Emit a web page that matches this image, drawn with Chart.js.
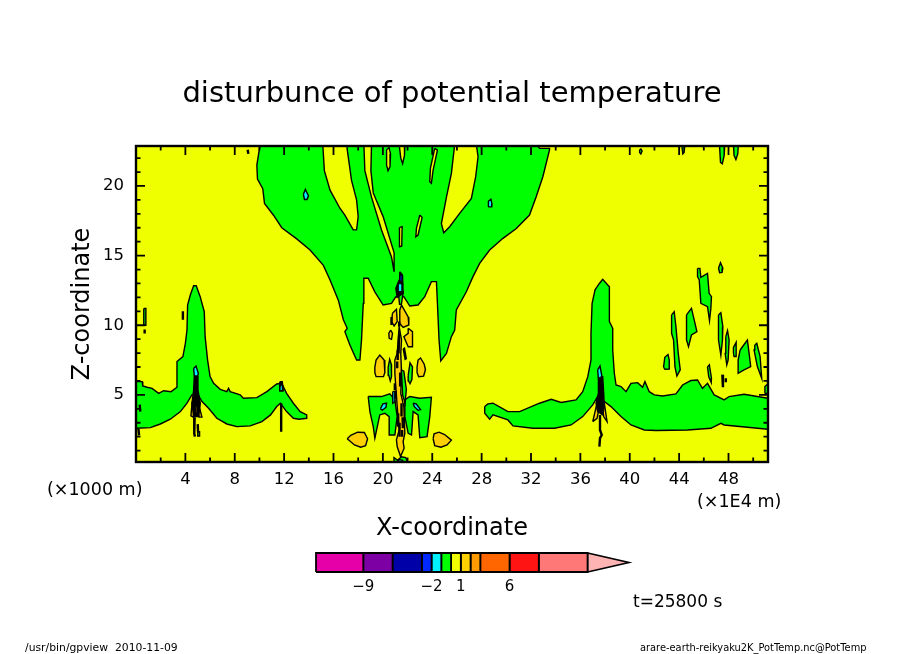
<!DOCTYPE html>
<html>
<head>
<meta charset="utf-8">
<title>disturbunce of potential temperature</title>
<script src="https://cdn.jsdelivr.net/npm/chart.js@4/dist/chart.umd.min.js"></script>
<style>
  html, body { margin: 0; padding: 0; background: #fff; }
  #wrap { position: relative; width: 904px; height: 654px; overflow: hidden; }
  #plot { position: absolute; left: 0; top: 0; }
  #bar { position: absolute; left: 296px; top: 540px; }
</style>
</head>
<body>
<div id="wrap">
  <canvas id="plot" width="904" height="654"></canvas>
  <canvas id="bar" width="360" height="60"></canvas>
</div>
<script>
// axis labels
const xTickLabels = [4, 8, 12, 16, 20, 24, 28, 32, 36, 40, 44, 48];
const zTickLabels = [5, 10, 15, 20];

// colour bar
const barLevels = [-13.85, -9, -6, -3, -2, -1, 0, 1, 2, 3, 6, 9, 14];
const barColors = ['#e600a8', '#7d00a5', '#0000a8', '#0028ff', '#00f0ff', '#00ff00', '#f0ff00', '#ffd000', '#ff9a00', '#ff6600', '#ff1414', '#ff7878'];
const barTail = [14, 18.25];
const barLabels = [-9, -2, 1, 6];

// large contour areas, x in km, z in km
const westRidgeX = [0,0.5,0.55,0.9,1.3,1.84,2.24,2.84,3.32,3.32,3.8,4.0,4.13,4.18,4.4,4.67,4.88,5.2,5.53,5.6,5.8,6.0,6.29,6.82,7.36,7.5,7.63,8.44,8.7,9.79,10.6,11.4,11.8,12.2,12.75,13.3,13.83,13.83,13.2,12.75,12.2,11.7,11.4,10.9,10.2,9.25,8.17,7.36,6.55,5.88,5.35,4.95,4.53,4.13,3.6,2.78,1.97,1.16,0];
const westRidgeZ = [5.95,5.95,5.64,5.55,5.47,5.11,5.3,5.23,5.55,7.39,7.75,8.7,9.66,11.45,12.17,12.84,12.84,12.05,10.97,9.18,7.5,6.31,5.83,5.4,5.23,5.47,5.23,5.0,4.76,4.8,5.23,5.78,5.83,5.11,4.4,3.8,3.56,3.32,3.25,3.32,3.8,4.4,4.16,3.56,3.08,2.77,2.72,2.91,3.32,4.04,4.52,5.11,5.0,4.4,3.8,3.25,2.91,2.65,2.6];

const centralX = [10.06,9.79,9.84,10.27,10.41,11.14,11.81,13.02,14.1,15.18,15.72,16.39,16.8,17.11,16.92,17.33,17.87,18.14,18.27,18.41,18.46,18.81,19.35,20.02,20.7,21.05,21.32,21.7,22.18,22.85,23.39,23.93,24.34,24.42,24.55,24.69,25.15,25.55,25.82,25.95,26.76,27.3,27.84,28.65,29.73,30.81,31.88,32.42,32.96,33.5,33.5,32.7,32.42];
const centralZ = [23,21.5,20.5,19.8,18.75,17.9,17.0,16.2,15.4,14.3,13.25,11.8,10.4,9.78,9.54,8.58,7.5,7.5,8.94,11.57,13.37,13.37,12.4,11.45,11.57,12.05,12.05,12.05,11.38,11.45,12.05,13.13,13.13,11.57,8.94,7.44,7.98,9.18,9.66,11.1,12.4,13.49,14.44,15.4,16.24,16.95,17.91,19.23,20.66,22.58,22.7,22.7,23];

const eastRidgeX = [28.25,28.51,28.92,30.13,31.08,32.69,33.64,34.44,35.65,36.19,36.6,36.86,36.86,36.95,37.19,37.54,37.81,38.35,38.35,38.62,38.62,38.75,38.89,39.29,39.7,40.1,40.64,41.04,41.23,41.58,41.99,42.66,43.74,44.28,44.95,45.49,45.89,46.3,46.84,47.65,48.05,49.26,50.34,51.2,51.2,47.65,47.38,46.57,44.68,42.12,41.18,40.1,39.29,38.48,37.94,37.4,37.0,36.19,35.25,33.9,32.15,30.54,30.13,28.92,28.65,28.25];
const eastRidgeZ = [4.16,4.35,4.4,3.8,3.8,4.4,4.68,4.45,4.64,5.23,6.31,7.5,9.42,11.58,12.54,13.0,13.3,12.77,10.26,9.78,8.22,6.55,5.71,5.6,5.23,5.83,5.88,5.55,5.95,5.23,5.0,4.92,5.07,5.71,6.03,6.07,5.47,5.83,5.0,4.64,4.88,5.04,4.88,4.76,2.53,2.84,2.96,2.6,2.48,2.44,2.48,2.84,3.44,4.16,4.52,4.88,4.28,3.44,2.84,2.6,2.6,2.77,3.2,3.56,3.25,3.68];

// yellow tongues cut into the central area
const yellowPatches = [
  [[15.13,15.26,15.72,16.52,16.92,17.6,17.87,18.0,17.87,17.46,17.1,17.1], [23,21.1,19.7,18.4,17.9,16.85,16.85,17.8,19.0,20.4,22.7,23]],
  [[18.46,18.54,19.08,19.89,20.7,20.91,20.91,20.02,19.22,19.03,19.08], [23,21.1,19.2,16.84,14.9,13.84,15.2,17.8,19.5,21.1,23]],
  [[25.82,25.55,25.15,24.74,24.93,25.41,26.22,27.17,27.52,27.71,27.57], [23,20.9,19.2,17.3,16.64,17.07,18.03,19.1,20.67,22.1,23]],
  [[20.3,20.5,20.62,20.58,20.42,20.3], [22.6,22.75,22.3,21.4,21.1,21.5]],
  [[21.32,21.78,21.75,21.6,21.45], [23,23,22.2,21.6,22]],
  [[24.2,24.42,24.07,23.93,23.8,23.85], [22.7,22.58,21.14,20.19,20.3,21.26]],
  [[22.99,23.18,22.85,22.67,22.72], [17.91,17.74,16.48,16.36,16.96]],
  [[21.37,21.56,21.53,21.37,21.32], [17.03,17.08,15.69,15.64,16.36]]
];

// gold blobs
const goldPatches = [
  [[19.35,19.45,19.75,20.1,20.16,20.05,19.45,19.35], [7.0,7.5,7.86,7.5,6.6,6.31,6.31,6.6]],
  [[22.77,22.85,23.05,23.35,23.45,23.3,22.9,22.77], [7.0,7.5,7.65,7.2,6.8,6.35,6.3,6.6]],
  [[17.11,17.4,17.95,18.5,18.76,18.6,18.2,17.7], [1.85,2.1,2.32,2.3,1.85,1.35,1.24,1.4]],
  [[24.07,24.15,24.55,25.0,25.55,25.2,24.7,24.2], [1.85,2.2,2.32,2.15,1.75,1.4,1.24,1.35]],
  [[21.51,22.05,22.1,21.64,21.32,21.37], [11.45,10.6,10.02,9.85,10.19,11.1]],
  [[22.05,22.4,22.4,22.05,21.7,22.05], [9.78,9.54,8.46,8.46,9.18,9.42]],
  [[20.63,20.78,20.7,20.51,20.48], [9.66,9.42,8.99,9.06,9.42]],
  [[20.78,21.1,21.16,20.91,20.7], [10.86,11.14,10.26,9.95,10.26]],
  [[21.32,21.51,21.45,21.51,21.45,21.7,21.78,21.64,21.72,21.43,21.16,21.1,21.32,21.16,20.97,20.97,21.16,21.24], [9.9,8.94,7.98,6.55,5.11,4.16,2.24,1.65,1.17,0.57,1.29,1.77,2.48,4.16,6.55,7.5,7.98,8.94]],
  [[4.55,4.45,4.65,4.75], [4.5,3.5,3.4,4.2]],
  [[5.05,5.34,5.12,5.0], [4.4,3.4,3.4,3.8]],
  [[37.0,37.35,37.54,37.35], [3.08,4.4,4.16,3.32]],
  [[37.75,37.94,38.16,37.89], [4.4,4.4,3.08,3.44]]
];

// small green patches
const greenPatches = [
  [[18.81,19.89,20.56,20.97,21.16,20.97,20.56,20.51,20.16,19.75,19.35,19.22,18.95], [4.88,4.88,5.07,4.64,3.44,2.12,2.12,3.44,3.68,3.56,1.89,2.72,3.8]],
  [[21.78,22.18,22.99,23.93,23.8,23.58,22.99,22.85,22.45,22.32,22.05,21.78], [4.64,4.88,4.76,4.83,3.44,2.0,1.93,3.56,3.8,2.12,2.24,3.44]],
  [[20.43,20.55,20.68,20.7,20.6,20.48], [7.0,7.55,7.2,6.3,6.0,6.4]],
  [[22.05,22.2,22.4,22.35,22.2,22.08], [6.4,7.3,7.0,6.1,5.8,6.0]],
  [[21.65,21.75,21.9,21.8], [8.3,8.35,7.6,7.55]],
  [[21.5,21.7,21.9,21.8,21.6], [6.8,6.7,5.4,4.4,5.0]],
  [[21.25,21.65,21.5,21.35], [12.4,12.4,11.5,11.5]],
  [[20.83,20.9,21.2,21.5,21.85,22.05], [0.1,0.5,0.3,0.55,0.5,0.1]],
  [[0.63,0.8,0.8,0.63], [11.2,11.2,10.0,10.0]],
  [[5.0,5.15,5.15,5.0], [2.35,2.35,2.05,2.05]],
  [[45.49,45.68,45.76,46.3,46.43,46.62,46.57,46.46,46.3,45.76,45.63,45.49], [14.08,14.08,13.44,13.72,12.29,12.05,11.21,10.33,11.33,11.57,13.25,13.49]],
  [[47.19,47.35,47.54,47.48,47.28], [14.1,14.49,14.1,13.8,13.77]],
  [[43.39,43.6,43.74,43.93,44.09,43.82,43.66,43.55,43.39], [10.74,10.97,9.9,7.98,6.79,6.36,7.03,8.94,9.42]],
  [[44.6,45.0,45.22,45.44,45.0,44.76,44.6], [10.74,11.21,10.38,9.54,9.3,8.46,8.94]],
  [[42.74,42.84,43.1,43.2,43.2,42.85], [7.0,7.7,7.9,7.5,6.85,6.84]],
  [[47.19,47.38,47.54,47.51,47.38,47.19], [10.74,10.9,9.9,8.94,7.86,8.94]],
  [[47.78,47.92,48.05,47.97,47.86,47.73], [9.18,9.61,8.94,7.5,7.15,7.98]],
  [[48.4,48.4,48.62,48.62,48.45], [8.0,8.4,8.77,7.75,7.75]],
  [[48.94,49.53,49.67,49.8,49.26,48.78,48.78], [8.22,8.94,7.98,7.03,6.79,6.55,7.5]],
  [[50.13,50.29,50.56,50.69,50.34,50.07], [8.58,8.7,7.75,6.19,7.03,8.22]],
  [[46.3,46.45,46.62,46.6,46.4], [7.0,7.15,6.2,5.9,6.3]],
  [[50.95,50.95,51.2,51.2], [5.1,5.6,5.8,5.1]],
  [[47.27,47.7,47.65,47.5,47.35], [23,23,22.2,21.6,21.7]],
  [[48.4,48.8,48.75,48.6,48.45], [23,23,22.3,21.9,22.2]],
  [[44.2,44.47,44.4,44.3], [23,23,22.4,22.3]],
  [[40.8,40.9,41.0,40.9,40.8], [22.6,22.65,22.5,22.3,22.4]]
];

// dark cores above the three spikes
const darkPatches = [
  [[21.37,21.59,21.64,21.16,21.05,21.32], [13.84,13.6,12.29,12.0,12.65,13.25]],
  [[4.72,5.02,5.02,5.21,5.08,4.67,4.53,4.67], [6.31,6.31,5.35,4.4,3.44,3.44,4.4,5.35]],
  [[11.65,11.85,11.92,11.6], [5.95,5.95,5.3,5.3]],
  [[37.46,37.81,37.89,37.94,37.81,37.4,37.27,37.46], [6.31,6.31,5.11,4.16,3.56,3.8,4.4,5.11]]
];

const cyanPatches = [
  [[28.53,28.55,28.75,28.84,28.82], [18.5,18.9,19.05,18.7,18.5]],
  [[13.56,13.72,13.97,13.85,13.65], [19.4,19.75,19.3,19.03,19.03]],
  [[19.8,20.0,20.3,20.25,19.95], [4.0,4.35,4.4,4.1,3.9]],
  [[22.45,22.7,23.05,22.85,22.55], [4.4,4.35,3.95,3.9,4.15]],
  [[20.8,20.97,20.97,20.8], [5.25,5.25,4.5,4.4]],
  [[21.24,21.6,21.55,21.3], [13.0,13.0,12.4,12.4]],
  [[21.15,21.3,21.6,21.65], [0.1,0.35,0.3,0.1]],
  [[4.67,4.86,5.05,5.0,4.72], [6.9,7.07,6.55,6.35,6.35]],
  [[11.68,11.85,11.88,11.65], [5.7,5.7,5.3,5.3]],
  [[37.4,37.59,37.75,37.46], [6.79,7.07,6.31,6.19]]
];

const bluePatches = [
  [[21.37,21.56,21.56,21.37], [13.6,13.6,13.15,13.15]]
];

const innerGoldPatches = [
  [[4.85,5.0,4.98,4.85], [4.2,4.2,3.7,3.7]]
];

// tight contours drawn as heavy lines
const tightLines = [
  [[21.32,21.32], [10.26,9.9]],
  [[21.32,21.27], [9.42,7.98]],
  [[21.2,21.2], [8.2,7.5]],
  [[21.16,21.16], [7.39,6.91]],
  [[21.45,21.4], [6.6,5.6]],
  [[20.97,20.97], [5.83,5.35]],
  [[21.05,21.05], [5.3,4.7]],
  [[21.51,21.51], [4.4,3.44]],
  [[21.24,21.24], [3.68,2.72]],
  [[21.6,21.62], [3.4,2.6]],
  [[21.35,21.35], [3.0,2.0]],
  [[21.56,21.56], [2.48,2.0]],
  [[20.7,20.7], [10.6,10.02]],
  [[4.75,4.72,4.78], [3.4,2.2,2.0]],
  [[5.0,5.03], [2.9,2.3]],
  [[11.76,11.76], [4.4,2.36]],
  [[37.59,37.59,37.73,37.59,37.54], [3.56,2.48,2.12,1.89,1.29]],
  [[47.5,47.55], [6.45,5.55]],
  [[47.78,47.78], [6.2,5.9]],
  [[3.8,3.8], [11.0,10.4]],
  [[0.7,0.7], [9.7,9.4]],
  [[9.05,9.1], [22.6,22.3]],
  [[0.3,0.35], [4.3,3.8]],
  [[0.2,0.25], [2.55,2.1]]
];

const GREEN = '#00ff00', YELLOW = '#f0ff00', GOLD = '#ffd000', CYAN = '#00f0ff', BLUE = '#0028ff', BLACK = '#000000';

function toPoints(xs, ys) {
  return xs.map((x, i) => ({x: x, y: ys[i]}));
}

function polygon(xs, ys, color) {
  const pts = toPoints(xs, ys);
  pts.push(pts[0]);
  return {data: pts, showLine: true, pointRadius: 0, borderWidth: 1.4, borderColor: BLACK, backgroundColor: color, fill: 'shape', tension: 0};
}

const datasets = [];
datasets.push(polygon(westRidgeX, westRidgeZ, GREEN));
datasets.push(polygon(centralX, centralZ, GREEN));
datasets.push(polygon(eastRidgeX, eastRidgeZ, GREEN));
yellowPatches.forEach(p => datasets.push(polygon(p[0], p[1], YELLOW)));
goldPatches.forEach(p => datasets.push(polygon(p[0], p[1], GOLD)));
greenPatches.forEach(p => datasets.push(polygon(p[0], p[1], GREEN)));
darkPatches.forEach(p => datasets.push(polygon(p[0], p[1], BLACK)));
cyanPatches.forEach(p => datasets.push(polygon(p[0], p[1], CYAN)));
bluePatches.forEach(p => datasets.push(polygon(p[0], p[1], BLUE)));
innerGoldPatches.forEach(p => datasets.push(polygon(p[0], p[1], GOLD)));
tightLines.forEach(p => {
  datasets.push({data: toPoints(p[0], p[1]), showLine: true, pointRadius: 0, borderWidth: 2.4, borderColor: BLACK, fill: false, tension: 0});
});
// Chart.js paints the first dataset last, so the bottom layer has to be at the end
datasets.reverse();

// yellow field, frame and the inward ticks on all four sides
const framePlugin = {
  id: 'frame',
  beforeDatasetsDraw(chart) {
    const a = chart.chartArea;
    chart.ctx.fillStyle = YELLOW;
    chart.ctx.fillRect(a.left, a.top, a.width, a.height);
  },
  afterDatasetsDraw(chart) {
    const ctx = chart.ctx, a = chart.chartArea;
    ctx.save();
    ctx.strokeStyle = BLACK;
    ctx.lineWidth = 1.8;
    ctx.beginPath();
    chart.scales.x.ticks.forEach(t => {
      if (t.value % 2 || t.value <= 0) return;
      const px = chart.scales.x.getPixelForValue(t.value);
      const len = t.value % 4 ? 4.5 : 9;
      ctx.moveTo(px, a.bottom); ctx.lineTo(px, a.bottom - len);
      ctx.moveTo(px, a.top); ctx.lineTo(px, a.top + len);
    });
    chart.scales.y.ticks.forEach(t => {
      if (t.value % 1 || t.value <= 0) return;
      const py = chart.scales.y.getPixelForValue(t.value);
      const len = t.value % 5 ? 4.5 : 9;
      ctx.moveTo(a.left, py); ctx.lineTo(a.left + len, py);
      ctx.moveTo(a.right, py); ctx.lineTo(a.right - len, py);
    });
    ctx.stroke();
    ctx.lineWidth = 2.4;
    ctx.strokeRect(a.left, a.top, a.width, a.height);
    ctx.restore();
  }
};

// loose labels around the plot
const notes = [
  ['(×1000 m)', 47, 490, 17.5],
  ['(×1E4 m)', 697, 502, 17.5],
  ['t=25800 s', 633, 603, 17],
  ['/usr/bin/gpview  2010-11-09', 25, 648, 10.8],
  ['arare-earth-reikyaku2K_PotTemp.nc@PotTemp', 640, 648, 9.85]
];

const notesPlugin = {
  id: 'notes',
  afterDraw(chart) {
    const ctx = chart.ctx;
    ctx.save();
    ctx.fillStyle = BLACK;
    ctx.textBaseline = 'middle';
    notes.forEach(n => {
      ctx.font = n[3] + 'px "DejaVu Sans"';
      ctx.fillText(n[0], n[1], n[2]);
    });
    ctx.restore();
  }
};

new Chart(document.getElementById('plot'), {
  type: 'scatter',
  data: {datasets: datasets},
  plugins: [framePlugin, notesPlugin],
  options: {
    responsive: false,
    animation: false,
    devicePixelRatio: 1,
    plugins: {
      legend: {display: false},
      tooltip: {enabled: false},
      title: {
        display: true,
        text: 'disturbunce of potential temperature',
        color: BLACK,
        font: {family: 'DejaVu Sans', size: 29, weight: 'normal', lineHeight: 1.2},
        padding: {top: 77, bottom: 34.2}
      }
    },
    scales: {
      x: {
        type: 'linear', min: 0, max: 51.2,
        afterFit(s) { s.height = 192; },
        grid: {display: false},
        border: {display: false},
        ticks: {
          stepSize: 2, autoSkip: false, maxRotation: 0, includeBounds: false,
          padding: 0, color: BLACK,
          font: {family: 'DejaVu Sans', size: 16.5},
          callback: v => xTickLabels.includes(v) ? String(v) : ''
        },
        title: {
          display: true, text: 'X-coordinate', color: BLACK,
          font: {family: 'DejaVu Sans', size: 24, lineHeight: 1.2},
          padding: {top: 0, bottom: 110.6}
        }
      },
      y: {
        type: 'linear', min: 0.18, max: 22.87,
        afterFit(s) { s.width = 136; },
        grid: {display: false},
        border: {display: false},
        ticks: {
          stepSize: 1, autoSkip: false, includeBounds: false,
          padding: 4, color: BLACK,
          font: {family: 'DejaVu Sans', size: 16.5},
          callback: v => zTickLabels.includes(v) ? String(v) : ''
        },
        title: {
          display: true, text: 'Z-coordinate', color: BLACK,
          font: {family: 'DejaVu Sans', size: 24, lineHeight: 1.2},
          padding: {top: 68.6, bottom: 0}
        }
      },
      // empty right axis, keeps the plot centred under the title
      yRight: {
        type: 'linear', position: 'right',
        afterFit(s) { s.width = 136; },
        grid: {display: false},
        border: {display: false},
        ticks: {display: false}
      }
    }
  }
});

// colour bar below the plot
const barSets = barColors.map((c, i) => {
  const lo = barLevels[i], hi = barLevels[i + 1];
  const ds = polygon([lo, hi, hi, lo], [0, 0, 1, 1], c);
  ds.clip = false;
  ds.borderWidth = 1.8;
  return ds;
});
const tailSet = polygon([barTail[0], barTail[1], barTail[0]], [0, 0.5, 1], '#ffb4b4');
tailSet.clip = false;
tailSet.borderWidth = 1.6;
barSets.push(tailSet);

new Chart(document.getElementById('bar'), {
  type: 'scatter',
  data: {datasets: barSets},
  options: {
    responsive: false,
    animation: false,
    devicePixelRatio: 1,
    layout: {padding: {left: 20, right: 27, top: 13}},
    plugins: {legend: {display: false}, tooltip: {enabled: false}},
    scales: {
      x: {
        type: 'linear', min: barLevels[0], max: barTail[1],
        afterFit(s) { s.height = 28; },
        grid: {display: false, tickLength: 0},
        border: {display: false},
        ticks: {
          stepSize: 1, autoSkip: false, maxRotation: 0, includeBounds: false,
          padding: 6, color: BLACK,
          font: {family: 'DejaVu Sans', size: 15},
          callback: v => barLabels.includes(v) ? String(v).replace('-', '−') : ''
        }
      },
      y: {type: 'linear', min: 0, max: 1, display: false}
    }
  }
});
</script>
</body>
</html>
